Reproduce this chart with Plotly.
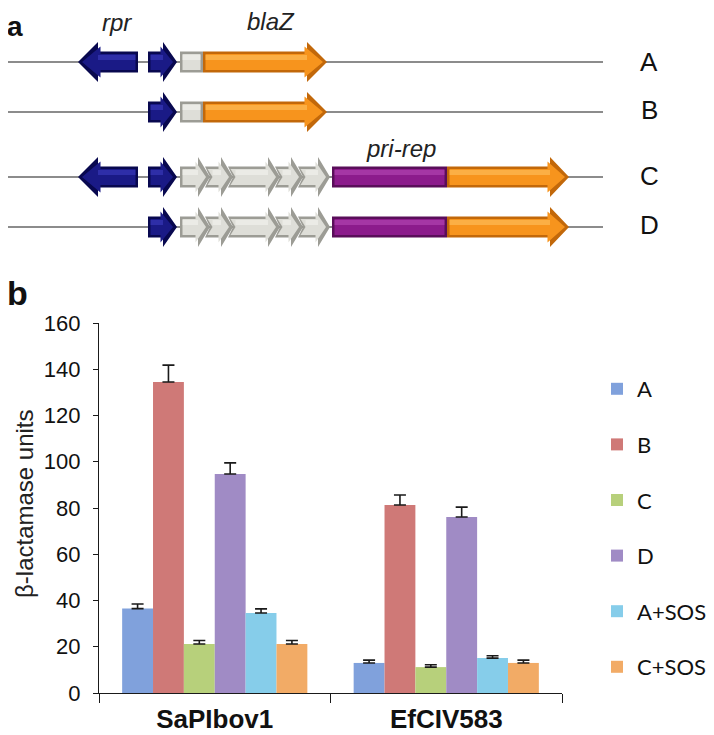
import plotly.graph_objects as go

# ---------------- data (panel b) ----------------
categories = ["SaPIbov1", "EfCIV583"]
series_names = ["A", "B", "C", "D", "A+SOS", "C+SOS"]
vals_A = [36.5, 13.0]
vals_B = [134.5, 81.3]
vals_C = [21.2, 11.2]
vals_D = [94.7, 76.1]
vals_ASOS = [34.6, 15.1]
vals_CSOS = [21.2, 13.0]
err_A = [2.0, 1.2]
err_B = [7.3, 4.3]
err_C = [1.5, 1.0]
err_D = [4.8, 4.3]
err_ASOS = [1.8, 1.0]
err_CSOS = [1.5, 1.2]
y_ticks = [0, 20, 40, 60, 80, 100, 120, 140, 160]

# ---------------- schematic content (panel a) ----------------
row_labels = ["A", "B", "C", "D"]
gene_labels = ["rpr", "blaZ", "pri-rep"]

series_values = [vals_A, vals_B, vals_C, vals_D, vals_ASOS, vals_CSOS]
series_errors = [err_A, err_B, err_C, err_D, err_ASOS, err_CSOS]
bar_colors = ["#80a1dc", "#cf7977", "#b7d07b", "#a08bc5", "#86cdea", "#f2ab66"]

# page body has an 8px margin: figure sized to fit the 714x735 window
OFF = 8
W, H = 714 - OFF, 735 - OFF


def fx(px):  # window x pixel -> paper fraction
    return (px - OFF) / W


def fy(py):  # window y pixel -> paper fraction
    return (H - (py - OFF)) / H


fig = go.Figure()

for name, v, e, c in zip(series_names, series_values, series_errors, bar_colors):
    fig.add_trace(go.Bar(
        x=categories, y=v, name=name, legendgroup=name,
        marker=dict(color=c, line=dict(width=0)),
        error_y=dict(type="data", array=e, arrayminus=[0] * len(e), symmetric=False,
                     color="#1a1a1a", thickness=1.6, width=6),
        xaxis="x", yaxis="y",
    ))

# invisible trace establishing the drawing subplot (window-pixel coordinates)
fig.add_trace(go.Scatter(x=[OFF + 1], y=[OFF + 1], mode="markers", marker=dict(opacity=0),
                         showlegend=False, hoverinfo="skip", xaxis="x2", yaxis="y2"))

# ---------- schematic drawing helpers ----------
shapes = []
SH, HH = 10.5, 20.0

PAL = {
    "blue":   ("#08084f", "#1a1a86", "#4040c4"),
    "orange": ("#c2680a", "#f7941d", "#ffc466"),
    "purple": ("#5a0e5a", "#8c1b8c", "#b94cb9"),
    "gray":   ("#9c9c95", "#deded8", "#f6f6f2"),
}


def path_from(pts):
    return "M " + " L ".join(f"{x:.1f},{y:.1f}" for x, y in pts) + " Z"


def arrow_pts(x0, x1, yc, d, hl, sh, hh, notch=0.0):
    if d > 0:
        pts = [(x0, yc - sh), (x1 - hl, yc - sh), (x1 - hl, yc - hh), (x1, yc),
               (x1 - hl, yc + hh), (x1 - hl, yc + sh), (x0, yc + sh)]
        if notch:
            pts.append((x0 + notch, yc))
    else:
        pts = [(x1, yc - sh), (x0 + hl, yc - sh), (x0 + hl, yc - hh), (x0, yc),
               (x0 + hl, yc + hh), (x0 + hl, yc + sh), (x1, yc + sh)]
    return pts


def add_arrow(x0, x1, yc, d, hl, pal, notch=0.0):
    dark, mid, light = PAL[pal]
    shapes.append(dict(type="path", path=path_from(arrow_pts(x0, x1, yc, d, hl, SH, HH, notch)),
                       fillcolor=dark, line=dict(width=0), xref="x2", yref="y2", layer="above"))
    ins = 2.5
    if d > 0:
        ip = arrow_pts(x0 + ins, x1 - ins * 1.6, yc, d, hl - ins * 0.6, SH - ins, HH - ins * 1.8,
                       notch)
    else:
        ip = arrow_pts(x0 + ins * 1.6, x1 - ins, yc, d, hl - ins * 0.6, SH - ins, HH - ins * 1.8)
    shapes.append(dict(type="path", path=path_from(ip), fillcolor=mid, line=dict(width=0),
                       xref="x2", yref="y2", layer="above"))
    if d > 0:
        sx0, sx1 = x0 + ins + (notch if notch else 0), x1 - hl
    else:
        sx0, sx1 = x0 + hl, x1 - ins
    shapes.append(dict(type="rect", x0=sx0, x1=sx1, y0=yc - SH + ins + 1, y1=yc - 2,
                       fillcolor=light, opacity=0.55, line=dict(width=0),
                       xref="x2", yref="y2", layer="above"))


def add_box(x0, x1, yc, pal):
    dark, mid, light = PAL[pal]
    shapes.append(dict(type="rect", x0=x0, x1=x1, y0=yc - SH, y1=yc + SH, fillcolor=dark,
                       line=dict(width=0), xref="x2", yref="y2", layer="above"))
    shapes.append(dict(type="rect", x0=x0 + 2.5, x1=x1 - 2.5, y0=yc - SH + 2.5, y1=yc + SH - 2.5,
                       fillcolor=mid, line=dict(width=0), xref="x2", yref="y2", layer="above"))
    shapes.append(dict(type="rect", x0=x0 + 2.5, x1=x1 - 2.5, y0=yc - SH + 3.5, y1=yc - 2,
                       fillcolor=light, opacity=0.55, line=dict(width=0),
                       xref="x2", yref="y2", layer="above"))


row_y = [62, 112, 177, 227]
for yc in row_y:
    shapes.append(dict(type="line", x0=0, x1=603, y0=yc, y1=yc, line=dict(color="#8c8c8c", width=2),
                       xref="x2", yref="y2", layer="above"))

chev = [(180, 210), (205, 233), (228, 280), (275, 303), (298, 330)]
for i, yc in enumerate(row_y):
    if i in (0, 2):
        add_arrow(78, 138, yc, -1, 20, "blue")
    add_arrow(148, 177, yc, 1, 14, "blue")
    if i < 2:
        add_box(180, 203, yc, "gray")
        add_arrow(203, 327, yc, 1, 20, "orange")
    else:
        for k, (a, b) in enumerate(chev):
            add_arrow(a, b, yc, 1, 12, "gray", notch=0 if k == 0 else 5)
        add_box(332, 447, yc, "purple")
        add_arrow(447, 569, yc, 1, 19, "orange")

annotations = []
for lab, yc in zip(row_labels, [62, 110, 176, 225]):
    annotations.append(dict(text=lab, x=649, y=yc, xref="x2", yref="y2", showarrow=False,
                            font=dict(family="Liberation Sans, Arial", size=26, color="#111")))
for lab, (gx, gy) in zip(gene_labels, [(117, 22), (271, 21), (401, 148)]):
    annotations.append(dict(text=f"<i>{lab}</i>", x=gx, y=gy, xref="x2", yref="y2", showarrow=False,
                            font=dict(family="Liberation Sans, Arial", size=24, color="#222")))
annotations.append(dict(text="<b>a</b>", x=OFF, y=OFF + 1, xref="x2", yref="y2", showarrow=False,
                        xanchor="left", yanchor="top", xshift=-3,
                        font=dict(family="Liberation Sans, Arial", size=28, color="#111")))
annotations.append(dict(text="<b>b</b>", x=OFF, y=314, xref="x2", yref="y2", showarrow=False,
                        xanchor="left", yanchor="bottom", xshift=-3,
                        font=dict(family="Liberation Sans, Arial", size=34, color="#111")))
annotations.append(dict(text="β-lactamase units", x=24, y=504, xref="x2", yref="y2",
                        showarrow=False, textangle=-90,
                        font=dict(family="Liberation Sans, Arial", size=24, color="#222")))

fig.update_layout(
    width=W, height=H, margin=dict(l=0, r=0, t=0, b=0, autoexpand=False),
    paper_bgcolor="white", plot_bgcolor="rgba(0,0,0,0)",
    barmode="group", bargap=0.2, bargroupgap=0.0,
    shapes=shapes, annotations=annotations,
    xaxis=dict(domain=[fx(99), fx(562)], anchor="y", showgrid=False, automargin=False,
               showline=True, linecolor="#1a1a1a", linewidth=1.3,
               ticks="outside", tickson="boundaries", ticklen=9, tickcolor="#1a1a1a", tickwidth=1.3,
               tickfont=dict(family="Liberation Sans, Arial", size=26, color="#111", weight="bold"),
               ticklabelstandoff=3),
    yaxis=dict(domain=[fy(693), fy(323)], anchor="x", range=[0, 160], automargin=False,
               tickvals=y_ticks, showgrid=False, zeroline=False,
               showline=True, linecolor="#1a1a1a", linewidth=1.3,
               ticks="outside", ticklen=5, tickcolor="#1a1a1a", tickwidth=1.3,
               tickfont=dict(family="Liberation Sans, Arial", size=22, color="#111"),
               ticklabelstandoff=8),
    xaxis2=dict(domain=[0, 1], anchor="y2", range=[OFF, OFF + W], visible=False, fixedrange=True),
    yaxis2=dict(domain=[0, 1], anchor="x2", range=[OFF + H, OFF], visible=False, fixedrange=True),
    legend=dict(x=fx(597), y=fy(368), xref="container", yref="container",
                xanchor="left", yanchor="top",
                bgcolor="rgba(0,0,0,0)", tracegroupgap=24, traceorder="grouped",
                font=dict(family="Lato, Open Sans", size=22, color="#111")),
    showlegend=True,
)

fig.write_html("out.html")
